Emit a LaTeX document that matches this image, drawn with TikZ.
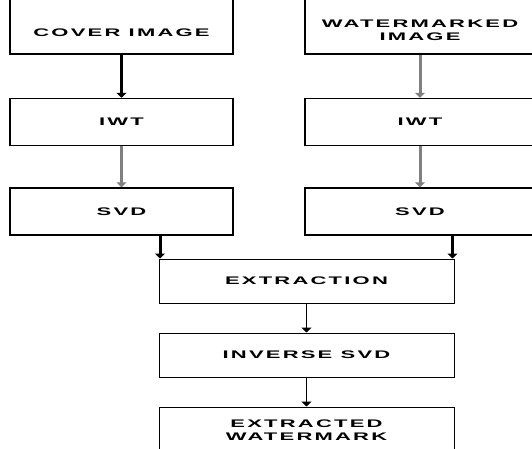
\documentclass[tikz,border=0pt]{standalone}
\usepackage{fontspec}
\setmainfont{Liberation Sans}
\newfontfamily\blockfont[FakeStretch=2.0, LetterSpace=20]{Liberation Sans}
\usetikzlibrary{arrows.meta, positioning}

\begin{document}
\begin{tikzpicture}[x=1pt, y=-1pt,
    blk/.style={rectangle, draw=black, line width=1.5pt,
      minimum width=223pt, minimum height=47pt, align=center,
      font=\blockfont\bfseries\fontsize{11}{13}\selectfont},
    lowblk/.style={blk, line width=1pt, minimum width=295pt,
      minimum height=44pt},
    fatarrow/.style={-{Triangle[width=10pt, length=5pt]}, line width=3pt},
    greyarrow/.style={fatarrow, draw=black!50},
    thinarrow/.style={-{Triangle[width=10pt, length=5pt]}, line width=1.5pt}
  ]
  \useasboundingbox (0,0) rectangle (532,448);
  \clip (0,0) rectangle (532,448);

  % left column
  \node[blk, minimum height=64pt, text height=28pt, text depth=0pt]
    (cover) at (121.5,22) {COVER IMAGE};
  \node[blk, below=43pt of cover] (liwt) {IWT};
  \node[blk, below=41pt of liwt] (lsvd) {SVD};

  % right column
  \node[blk, minimum width=230pt, minimum height=64pt,
    text height=36pt, text depth=0pt]
    (wm) at (420,22) {WATERMARKED\\IMAGE};
  \node[blk, minimum width=230pt, below=43pt of wm] (riwt) {IWT};
  \node[blk, minimum width=230pt, below=41pt of riwt] (rsvd) {SVD};

  % joint part
  \node[lowblk] (extr) at (306.5,281) {EXTRACTION};
  \node[lowblk, below=29pt of extr] (isvd) {INVERSE SVD};
  \node[lowblk, minimum height=47pt, below=29pt of isvd] (wmout)
    {EXTRACTED\\WATERMARK};

  \coordinate (inl) at ([xshift=1.5pt]extr.north west);
  \coordinate (inr) at ([xshift=-2pt]extr.north east);

  \draw[fatarrow] (cover) -- (liwt);
  \draw[greyarrow] (liwt) -- (lsvd);
  \draw[greyarrow] (wm) -- (riwt);
  \draw[greyarrow] (riwt) -- (rsvd);
  \draw[fatarrow] (lsvd.south -| inl) -- (inl);
  \draw[fatarrow] (rsvd.south -| inr) -- (inr);
  \draw[thinarrow] (extr) -- (isvd);
  \draw[thinarrow] (isvd) -- (wmout);
\end{tikzpicture}
\end{document}
